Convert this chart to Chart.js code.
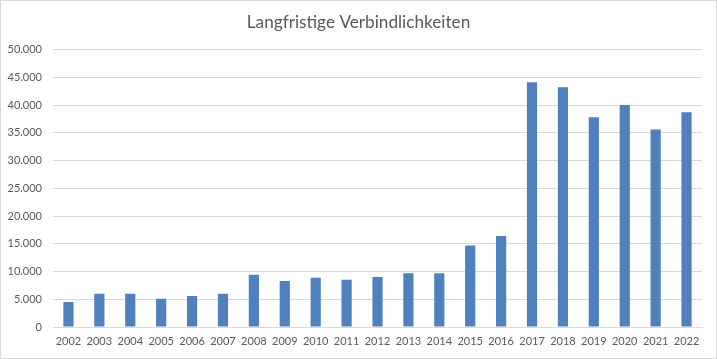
<!DOCTYPE html>
<html><head><meta charset="utf-8">
<script src="https://cdn.jsdelivr.net/npm/chart.js@4"></script>
<style>
html,body{margin:0;padding:0;background:#fff;overflow:hidden}
#box{position:absolute;left:0;top:0;width:717px;height:359px;box-sizing:border-box;border:1.5px solid #d9d9d9;background:#fff}
canvas{position:absolute;left:0;top:0}
</style></head><body>
<div id="box"></div>
<canvas id="c" width="717" height="359" style="width:717px;height:359px"></canvas>
<script>
const categories=["2002","2003","2004","2005","2006","2007","2008","2009","2010","2011","2012","2013","2014","2015","2016","2017","2018","2019","2020","2021","2022"];
const seriesValues=[4500,6000,6000,5100,5600,6000,9400,8300,8900,8500,9000,9700,9700,14700,16400,44100,43200,37800,40000,35600,38700];
const chartTitle="Langfristige Verbindlichkeiten";
const fontFamily="Lato, Carlito, sans-serif";
new Chart(document.getElementById('c'),{
  type:'bar',
  data:{labels:categories,datasets:[{data:seriesValues,backgroundColor:'#4f81bd',borderWidth:0,barPercentage:0.33,categoryPercentage:1}]},
  options:{
    responsive:false,animation:false,
    layout:{padding:{left:0,right:0,top:12,bottom:0}},
    plugins:{legend:{display:false},tooltip:{enabled:false},
      title:{display:true,text:chartTitle,color:'#595959',font:{family:fontFamily,size:17.2,weight:'normal'},padding:{top:0,bottom:17}}},
    scales:{
      x:{grid:{display:false,drawTicks:false},border:{color:'#d9d9d9'},
        ticks:{color:'#595959',font:{family:fontFamily,size:11},maxRotation:0,autoSkip:false,padding:8},
        afterFit(s){s.height=32}},
      y:{min:0,max:50000,grid:{color:'#d9d9d9',drawTicks:false},border:{display:false},
        ticks:{stepSize:5000,color:'#595959',font:{family:fontFamily,size:11},padding:11,
          callback:v=>v===0?'0':v.toLocaleString('de-DE')},
        afterFit(s){s.width=53}},
      yRightMargin:{axis:'y',position:'right',display:true,min:0,max:50000,grid:{display:false,drawTicks:false},border:{display:false},
        ticks:{display:false},afterFit(s){s.width=15}}
    }
  }
});
</script></body></html>
